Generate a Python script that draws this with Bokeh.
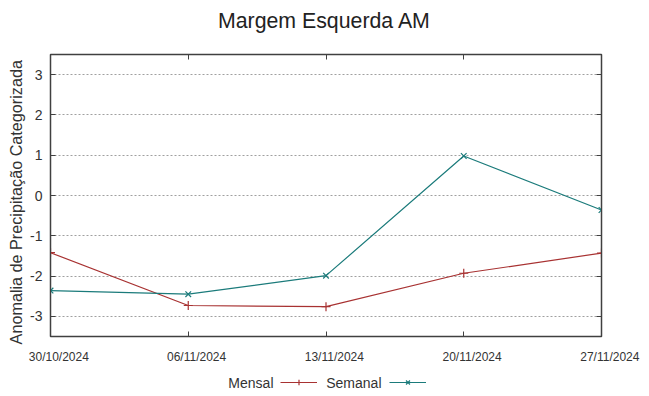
import pandas as pd
from bokeh.plotting import figure
from bokeh.layouts import column
from bokeh.models import (FixedTicker, LinearAxis, Label, Legend, LegendItem, Range1d)
from bokeh.embed import file_html
from bokeh.resources import INLINE

title_text = "Margem Esquerda AM"
dates = ["30/10/2024", "06/11/2024", "13/11/2024", "20/11/2024", "27/11/2024"]
mensal = [-1.42, -2.73, -2.76, -1.93, -1.43]
semanal = [-2.36, -2.45, -1.99, 0.98, -0.36]
y_ticks = [-3, -2, -1, 0, 1, 2, 3]
series_names = ["Mensal", "Semanal"]

d = pd.to_datetime(dates, format="%d/%m/%Y")
x = [(v - d[0]).days for v in d]

RED = "#a83232"
TEAL = "#1b7b7b"
FONT = "Liberation Sans"
AX = "#404040"
BL, FW, BR = 50, 551, 40   # left border, frame width, right border (shared by all rows)


def strip(h, y0):
    # frame geometry identical to the main plot, x data units == canvas pixels
    f = figure(frame_width=FW, frame_height=h, x_range=Range1d(BL, BL + FW),
               y_range=Range1d(y0, y0 + h), x_axis_location=None, y_axis_location=None,
               min_border_left=BL, min_border_right=BR, min_border_top=0, min_border_bottom=0,
               output_backend="svg", toolbar_location=None)
    f.outline_line_color = None
    f.grid.grid_line_color = None
    return f


# ---- title strip ----
tf = strip(40, 0)
tf.add_layout(Label(x=324, y=20, text=title_text, text_font=FONT, text_font_size="21.3px",
                    text_align="center", text_baseline="alphabetic", text_color="#222222"))

# ---- main plot ----
p = figure(frame_width=FW, frame_height=282, min_border_left=BL, min_border_right=BR,
           min_border_top=14, min_border_bottom=36, output_backend="svg",
           toolbar_location=None, x_range=Range1d(x[0], x[-1]), y_range=Range1d(-3.5, 3.5))
p.outline_line_color = AX
p.outline_line_width = 1.5

pad = "\u00a0" * 5
p.xaxis.ticker = FixedTicker(ticks=x)
p.xaxis.major_label_overrides = {xi: pad + lab for xi, lab in zip(x, dates)}
p.yaxis.ticker = FixedTicker(ticks=y_ticks)
p.yaxis.major_label_overrides = {t: str(t) for t in y_ticks}
for ax in [p.xaxis[0], p.yaxis[0]]:
    ax.major_tick_in = 5
    ax.major_tick_out = 0
    ax.minor_tick_in = 0
    ax.minor_tick_out = 0
    ax.axis_line_color = AX
    ax.major_tick_line_color = AX
    ax.major_label_text_font = FONT
    ax.major_label_text_color = "#333333"
    ax.axis_label_text_font = FONT
    ax.axis_label_text_font_style = "normal"
    ax.axis_label_text_color = "#333333"
p.xaxis.major_label_text_font_size = "12px"
p.xaxis.major_label_standoff = 13
p.yaxis.major_label_text_font_size = "14px"
p.yaxis.major_label_standoff = 8
p.yaxis.axis_label = "Anomalia de Precipitação Categorizada" + "\u00a0" * 3
p.yaxis.axis_label_text_font_size = "16.2px"
p.yaxis.axis_label_standoff = 2

ra = LinearAxis(ticker=FixedTicker(ticks=y_ticks), major_label_text_font_size="0px",
                major_tick_in=5, major_tick_out=0, minor_tick_in=0, minor_tick_out=0,
                axis_line_color=AX, major_tick_line_color=AX, major_label_standoff=0)
p.add_layout(ra, "right")
ta = LinearAxis(ticker=FixedTicker(ticks=x), major_label_text_font_size="0px",
                major_tick_in=5, major_tick_out=0, minor_tick_in=0, minor_tick_out=0,
                axis_line_color=AX, major_tick_line_color=AX, major_label_standoff=0)
p.add_layout(ta, "above")

p.xgrid.grid_line_color = None
p.ygrid.grid_line_color = "#a0a0a0"
p.ygrid.grid_line_dash = "2 2"
p.ygrid.grid_line_width = 1

p.line(x, mensal, line_color=RED, line_width=1.2)
p.scatter(x, mensal, marker="cross", size=9, line_color=RED, line_width=1.2)
p.line(x, semanal, line_color=TEAL, line_width=1.2)
p.scatter(x, semanal, marker="x", size=8, line_color=TEAL, line_width=1.2)

# ---- legend strip (text first, then sample, gnuplot style) ----
lf = strip(24, 100)
specs = [(series_names[0], mensal, RED, "cross", 9, 273, 280),
         (series_names[1], semanal, TEAL, "x", 8, 381, 389)]
for name, vals, col, mk, sz, tx, gx in specs:
    # series drawn far outside this strip's frame (clipped), only to feed the legend samples
    r1 = lf.line(x, vals, line_color=col, line_width=1.2)
    r2 = lf.scatter(x, vals, marker=mk, size=sz, line_color=col, line_width=1.2)
    lg = Legend(items=[LegendItem(label=" ", renderers=[r1, r2])], location=(gx - BL, 7),
                glyph_width=37, glyph_height=14, label_width=0, label_standoff=0,
                label_text_font_size="6px", padding=0, margin=0, spacing=0,
                border_line_color=None, background_fill_alpha=0)
    lf.add_layout(lg, "center")
    lf.add_layout(Label(x=tx, y=114, text=name, text_font=FONT, text_font_size="14px",
                        text_align="right", text_baseline="middle", text_color="#333333"))

layout = column(tf, p, lf, spacing=0)
open("out.html", "w").write(file_html(layout, INLINE))
